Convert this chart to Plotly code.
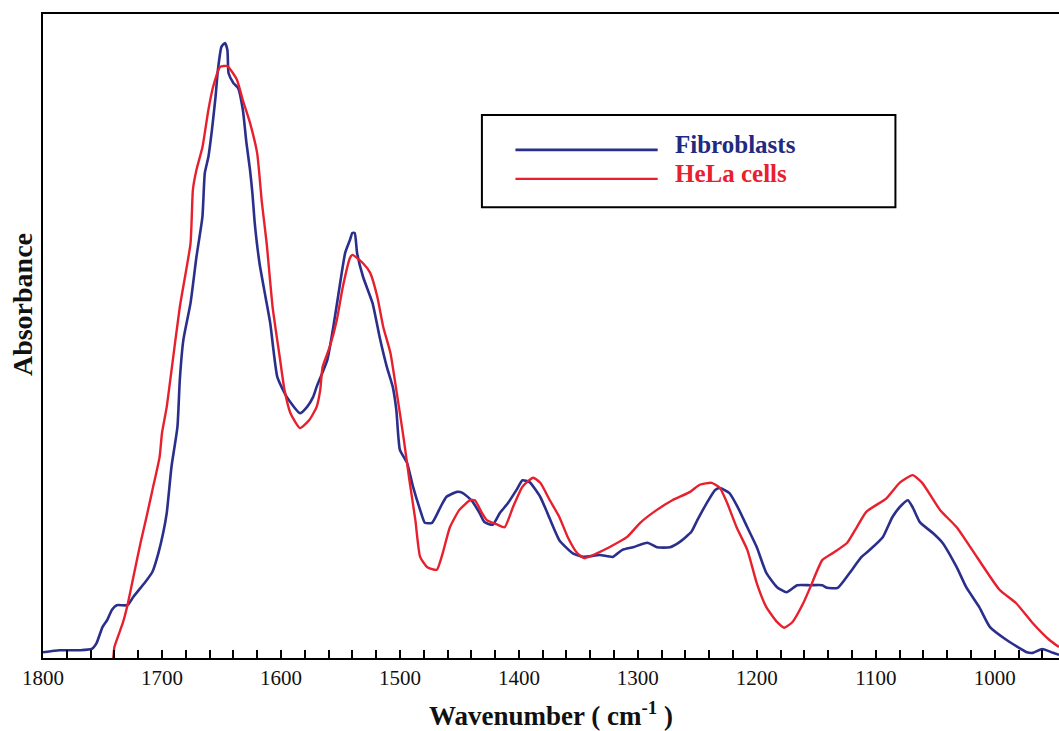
import plotly.graph_objects as go

# Fibroblasts spectrum (wavenumber cm-1, absorbance a.u.)
fib_wn = [1800, 1786, 1769, 1759, 1755, 1750, 1746, 1742, 1738, 1729, 1724, 1714, 1708, 1703, 1699,
          1696, 1692, 1687, 1685, 1682, 1676, 1671, 1666, 1664, 1661, 1658, 1655, 1653, 1650, 1647,
          1645, 1644, 1640, 1636, 1632, 1629, 1626, 1624, 1622, 1618, 1613, 1609, 1603, 1595, 1584,
          1578, 1573, 1570, 1561, 1556, 1552, 1546, 1542, 1540, 1538, 1536, 1531, 1523, 1517, 1511,
          1506, 1503, 1500, 1494, 1489, 1483, 1479, 1473, 1466, 1461, 1452, 1447, 1440, 1433, 1429,
          1422, 1416, 1409, 1402, 1397, 1391, 1382, 1376, 1366, 1355, 1346, 1332, 1321, 1313, 1304,
          1292, 1284, 1273, 1265, 1255, 1250, 1242, 1235, 1231, 1223, 1216, 1208, 1200, 1192, 1183,
          1175, 1166, 1155, 1145, 1141, 1132, 1122, 1112, 1105, 1094, 1086, 1078, 1073, 1069, 1063,
          1052, 1044, 1032, 1024, 1013, 1004, 990, 973, 968, 960, 951, 946]
fib_abs = [.009, .012, .012, .014, .023, .048, .059, .075, .082, .082, .095, .118, .134, .163, .194,
           .225, .297, .359, .432, .494, .551, .623, .685, .753, .778, .820, .871, .913, .949, .955,
           .944, .908, .893, .885, .851, .800, .758, .722, .675, .613, .561, .520, .436, .405, .380,
           .390, .405, .421, .463, .514, .561, .629, .649, .660, .660, .629, .592, .551, .498, .452,
           .421, .385, .323, .303, .266, .230, .210, .210, .234, .250, .258, .256, .245, .225, .211,
           .207, .225, .241, .261, .276, .273, .250, .225, .183, .163, .157, .160, .157, .168, .172,
           .179, .172, .172, .180, .196, .214, .241, .261, .264, .256, .234, .203, .172, .132, .110,
           .102, .113, .113, .113, .109, .109, .132, .157, .168, .188, .219, .238, .245, .234, .211,
           .194, .179, .141, .110, .079, .048, .028, .009, .008, .014, .008, .005]

# HeLa cells spectrum
hela_wn = [1744, 1741, 1740, 1733, 1729, 1724, 1718, 1713, 1708, 1702, 1700, 1696, 1693, 1685, 1676,
           1674, 1671, 1666, 1661, 1657, 1651, 1645, 1637, 1632, 1626, 1620, 1616, 1612, 1607, 1601,
           1597, 1592, 1584, 1576, 1570, 1567, 1565, 1559, 1553, 1548, 1542, 1540, 1531, 1525, 1519,
           1514, 1508, 1503, 1497, 1492, 1487, 1483, 1477, 1469, 1464, 1458, 1450, 1441, 1437, 1431,
           1427, 1418, 1412, 1405, 1397, 1388, 1382, 1374, 1366, 1359, 1351, 1345, 1334, 1324, 1309,
           1298, 1284, 1271, 1256, 1248, 1238, 1231, 1225, 1217, 1208, 1200, 1192, 1183, 1177, 1170,
           1161, 1155, 1145, 1136, 1124, 1116, 1108, 1091, 1080, 1069, 1061, 1046, 1032, 1019, 996,
           982, 968, 954, 946]
hela_abs = [-.014, .000, .017, .054, .082, .126, .179, .219, .261, .312, .349, .390, .432, .545, .644,
            .727, .758, .793, .851, .887, .918, .919, .898, .866, .831, .784, .707, .644, .545, .467,
            .416, .380, .357, .370, .390, .416, .452, .483, .525, .576, .621, .626, .613, .598, .561,
            .514, .474, .416, .343, .276, .214, .157, .141, .137, .163, .203, .230, .245, .245, .225,
            .214, .207, .203, .234, .266, .280, .272, .245, .219, .188, .163, .155, .163, .172, .188,
            .210, .230, .245, .258, .269, .272, .264, .241, .203, .168, .116, .079, .056, .047, .056,
            .085, .110, .152, .163, .179, .203, .227, .248, .272, .284, .272, .230, .203, .168, .106,
            .085, .054, .028, .017]

x_ticks = [1800, 1700, 1600, 1500, 1400, 1300, 1200, 1100, 1000]

BLUE = "#2b2f8c"
RED = "#e8202e"
SERIF = "Liberation Serif, Times New Roman, serif"

fig = go.Figure()
fig.add_trace(go.Scatter(x=fib_wn, y=fib_abs, mode="lines", name="Fibroblasts",
                         line=dict(color=BLUE, width=2.6, shape="spline", smoothing=0.5)))
fig.add_trace(go.Scatter(x=hela_wn, y=hela_abs, mode="lines", name="HeLa cells",
                         line=dict(color=RED, width=2.4, shape="spline", smoothing=0.5)))

fig.update_layout(
    width=1059, height=731,
    margin=dict(l=43, r=0, t=14, b=73),
    paper_bgcolor="white", plot_bgcolor="white",
    showlegend=False,
    font=dict(family=SERIF, color="#111111"),
    xaxis=dict(range=[1800, 946], tickvals=x_ticks, ticks="inside", ticklen=8, tickwidth=1.5,
               tickcolor="black", showline=True, linecolor="black", linewidth=2, mirror=True,
               showgrid=False, zeroline=False, tickfont=dict(size=21, family=SERIF),
               minor=dict(dtick=20, tick0=1800, ticks="inside", ticklen=8, tickwidth=1.5,
                          tickcolor="black", showgrid=False)),
    yaxis=dict(range=[0, 1], showline=True, linecolor="black", linewidth=2, ticks="",
               showticklabels=False, showgrid=False, zeroline=False),
)

# Axis titles
fig.add_annotation(text="<b>Wavenumber ( cm<sup>-1</sup> )</b>", xref="paper", yref="paper",
                   x=0.5, y=0, yshift=-56, xanchor="center", yanchor="middle",
                   showarrow=False, font=dict(size=27, family=SERIF, color="#111111"))
fig.add_annotation(text="<b>Absorbance</b>", xref="paper", yref="paper", textangle=-90,
                   x=0, xshift=-21, y=0.548, xanchor="center", yanchor="middle",
                   showarrow=False, font=dict(size=28, family=SERIF, color="#111111"))

# Legend box
fig.add_shape(type="rect", xref="paper", yref="paper", x0=0.432, x1=0.839, y0=0.700, y1=0.843,
              line=dict(color="black", width=2), fillcolor="white")
fig.add_shape(type="line", xref="paper", yref="paper", x0=0.465, x1=0.605, y0=0.789, y1=0.789,
              line=dict(color=BLUE, width=2.6))
fig.add_shape(type="line", xref="paper", yref="paper", x0=0.465, x1=0.605, y0=0.744, y1=0.744,
              line=dict(color=RED, width=2.4))
fig.add_annotation(text="<b>Fibroblasts</b>", xref="paper", yref="paper", x=0.620, y=0.797,
                   xanchor="left", yanchor="middle", showarrow=False,
                   font=dict(size=25, family=SERIF, color="#1f2a80"))
fig.add_annotation(text="<b>HeLa cells</b>", xref="paper", yref="paper", x=0.620, y=0.752,
                   xanchor="left", yanchor="middle", showarrow=False,
                   font=dict(size=25, family=SERIF, color=RED))

fig.write_html("out.html", config={"displayModeBar": False},
               post_script="document.body.style.margin='0px';")
